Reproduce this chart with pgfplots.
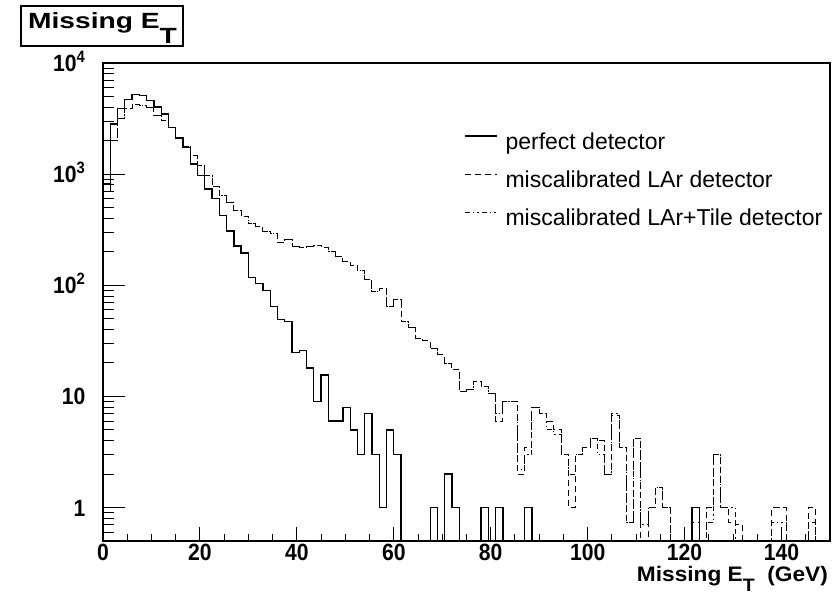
\documentclass[border=0pt]{standalone}
\usepackage{fontspec}
\setmainfont{Liberation Sans}
\newfontfamily\widefont{Liberation Sans}[FakeStretch=1.28]
\newfontfamily\midfont{Liberation Sans}[FakeStretch=1.08]
\newfontfamily\condfont{Liberation Sans}[FakeStretch=0.9]
\usepackage{graphicx}
\usepackage{pgfplots}
\pgfplotsset{compat=1.18}
\begin{document}
\begin{tikzpicture}[x=1pt,y=1pt]
\useasboundingbox (0,0) rectangle (837,597);
% axis carrying the y ticks
\begin{axis}[at={(103pt,56pt)}, anchor=south west, scale only axis,
  width=727pt, height=478pt,
  xmin=0, xmax=150, ymode=log, ymin=0.5, ymax=10000,
  xtick=\empty,
  ytick={1,10,100,1000,10000},
  yticklabels={1,10,10\textsuperscript{2},10\textsuperscript{3},10\textsuperscript{4}},
  minor ytick={0.6,0.7,0.8,0.9,2,3,4,5,6,7,8,9,20,30,40,50,60,70,80,90,200,300,400,500,600,700,800,900,2000,3000,4000,5000,6000,7000,8000,9000},
  ytick pos=left, tick align=inside,
  major tick length=22pt, minor tick length=11pt,
  tick style={line width=1pt, black},
  axis line style={draw=none},
  yticklabel style={font=\condfont\fontsize{23.5}{23.5}\selectfont\bfseries, anchor=base east, yshift=-8.5pt, xshift=-14pt},
]
\end{axis}
% data axis carrying the x ticks
\begin{axis}[at={(103pt,56pt)}, anchor=south west, scale only axis,
  width=727pt, height=478pt,
  xmin=0, xmax=150, ymode=log, ymin=0.5, ymax=10000,
  ytick=\empty,
  xtick={0,20,40,60,80,100,120,140},
  xticklabels={0,20,40,60,80,100,120,140},
  minor xtick={5,10,15,25,30,35,45,50,55,65,70,75,85,90,95,105,110,115,125,130,135,145},
  xtick pos=bottom, tick align=inside,
  major tick length=14pt, minor tick length=7pt,
  tick style={line width=1pt, black},
  axis line style={line width=1.2pt},
  xticklabel style={font=\condfont\fontsize{23.5}{23.5}\selectfont\bfseries, inner sep=2pt, yshift=-1pt},
  legend cell align=left,
  legend style={at={(0.4966,0.858)}, anchor=north west, draw=none, fill=none, inner sep=0pt,
    font=\fontsize{23}{23}\selectfont, row sep=14pt,
    nodes={inner sep=1pt, text height=17pt, text depth=5pt}},
  legend image code/.code={\draw[#1] (0pt,7pt) -- (32pt,7pt); \path (39pt,7pt);},
]
\addlegendimage{black, line width=1.3pt}
\addlegendentry{perfect detector}
\addlegendimage{black, line width=1pt, dash pattern=on 6pt off 4pt}
\addlegendentry{miscalibrated LAr detector}
\addlegendimage{black, line width=1pt, dash pattern=on 5pt off 3pt on 1.5pt off 3pt on 1.5pt off 3pt}
\addlegendentry{miscalibrated LAr+Tile detector}
% miscalibrated LAr+Tile (dash-dot)
\addplot[forget plot, black, line width=1pt, const plot mark left,
  dash pattern=on 5pt off 3pt on 1.5pt off 3pt on 1.5pt off 3pt] coordinates {
(0,700)(1.5,1990)(3,3170)(4.5,3890)(6,4260)(7.5,4170)(9,3970)(10.5,3400)(12,3020)(13.5,2630)
(15,2110)(16.5,1770)(18,1470)(19.5,1190)(21,970)(22.5,773)(24,641)(25.5,558)(27,471)(28.5,417)
(30,357)(31.5,338)(33,305)(34.5,291)(36,245)(37.5,257)(39,224)(40.5,221)(42,224)(43.5,228)
(45,217)(46.5,203)(48,182)(49.5,162)(51,150)(52.5,136)(54,113)(55.5,87)(57,93)(58.5,64)
(60,74)(61.5,47)(63,42)(64.5,33)(66,31.6)(67.5,27)(69,23.6)(70.5,19.6)(72,17.5)(73.5,11)
(75,11.5)(76.5,13.6)(78,12.3)(79.5,10.7)(81,7)(82.5,9)(84,9)(85.5,2.2)(87,3)(88.5,8)
(90,7)(91.5,5)(93,4.5)(94.5,3)(96,2)(97.5,3)(99,3.5)(100.5,4.2)(102,3)(103.5,2)
(105,7)(106.5,3.5)(108,0.73)(109.5,4.2)(111,0.7)(112.5,1)(114,1.5)(115.5,1)(117,0.001)
(124.5,0.73)(126,3)(127.5,1)(129,1)(130.5,0.001)
(138,0.73)(139.5,0.73)(141,0.001)(145.5,0.73)(147,0.001)(150,0.001)};
% miscalibrated LAr (dashed)
\addplot[forget plot, black, line width=1pt, const plot mark left,
  dash pattern=on 6pt off 4pt] coordinates {
(0,700)(1.5,1990)(3,3170)(4.5,3890)(6,4260)(7.5,4170)(9,3970)(10.5,3400)(12,3020)(13.5,2630)
(15,2110)(16.5,1770)(18,1470)(19.5,1190)(21,970)(22.5,773)(24,641)(25.5,558)(27,471)(28.5,417)
(30,357)(31.5,338)(33,305)(34.5,291)(36,245)(37.5,257)(39,224)(40.5,221)(42,224)(43.5,228)
(45,217)(46.5,203)(48,182)(49.5,162)(51,150)(52.5,136)(54,113)(55.5,87)(57,93)(58.5,64)
(60,74)(61.5,47)(63,42)(64.5,33)(66,31.6)(67.5,27)(69,23.6)(70.5,19.6)(72,17.5)(73.5,11)
(75,11.5)(76.5,13.6)(78,12.3)(79.5,10.7)(81,6)(82.5,9)(84,9)(85.5,2)(87,3.5)(88.5,8)
(90,7)(91.5,6)(93,5)(94.5,3)(96,1)(97.5,3)(99,3.5)(100.5,4.2)(102,4)(103.5,2)
(105,6.8)(106.5,3.5)(108,0.73)(109.5,4.2)(111,0.001)(112.5,1)(114,1.5)(115.5,1)(117,0.001)
(121.5,0.73)(123,0.001)(124.5,1)(126,3)(127.5,1)(129,0.73)(130.5,0.7)(132,0.001)
(138,1)(139.5,1)(141,0.001)(145.5,1)(147,0.001)(150,0.001)};
% perfect detector (solid)
\addplot[forget plot, black, line width=1.3pt, const plot mark left] coordinates {
(0,820)(1.5,2820)(3,3890)(4.5,4720)(6,5240)(7.5,5130)(9,4630)(10.5,4030)(12,3470)(13.5,2630)
(15,2110)(16.5,1740)(18,1230)(19.5,970)(21,736)(22.5,600)(24,425)(25.5,308)(27,225)(28.5,195)
(30,117)(31.5,104)(33,90)(34.5,64)(36,49.5)(37.5,47.5)(39,25)(40.5,26)(42,18)(43.5,9)
(45,15.6)(46.5,6)(48,6)(49.5,8)(51,5)(52.5,3)(54,7)(55.5,3)(57,1)(58.5,5)
(60,3)(61.5,0.001)(67.5,1)(69,0.001)(70.5,2)(72,1)(73.5,0.001)(78,1)(79.5,0.001)
(81,1)(82.5,0.001)(87,1)(88.5,0.001)(121.5,1)(123,0.001)(150,0.001)};
\end{axis}
% title box
\draw[line width=1.2pt] (21,551) rectangle (183,591);
\node[anchor=base west, inner sep=0pt] at (28,568)
  {\widefont\bfseries\fontsize{22}{22}\selectfont Missing E\raisebox{-0.68em}{T}};
% x axis title
\node[anchor=base east, inner sep=0pt] at (828,16)
  {\midfont\bfseries\fontsize{21}{21}\selectfont Missing E\raisebox{-0.5em}{\fontsize{18}{18}\selectfont T}\hspace{0.6em}(GeV)};
\end{tikzpicture}
\end{document}
